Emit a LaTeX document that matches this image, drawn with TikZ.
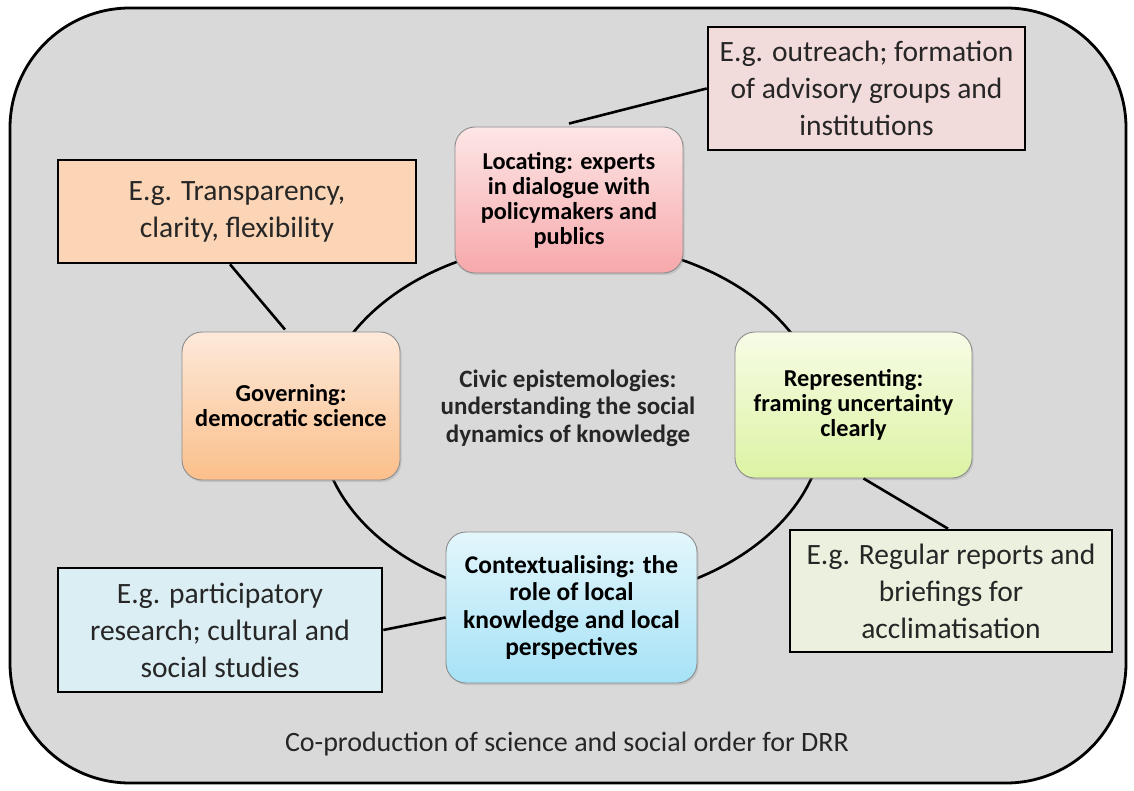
\documentclass[tikz,border=0pt]{standalone}
\usepackage{fontspec}
\setmainfont{Carlito}
\usetikzlibrary{calc,shadows}
\definecolor{panel}{HTML}{D9D9D9}
\definecolor{ink}{HTML}{262626}
\definecolor{exOrange}{HTML}{FBD5B5}
\definecolor{exPink}{HTML}{F2DCDB}
\definecolor{exGreen}{HTML}{EBF1DE}
\definecolor{exBlue}{HTML}{DBEEF4}
\definecolor{locTop}{HTML}{FDE6E6}
\definecolor{locBot}{HTML}{F7A8AB}
\definecolor{repTop}{HTML}{F7FCE6}
\definecolor{repBot}{HTML}{DCF3A3}
\definecolor{govTop}{HTML}{FDE9DA}
\definecolor{govBot}{HTML}{FBBF8A}
\definecolor{ctxTop}{HTML}{E3F6FC}
\definecolor{ctxBot}{HTML}{A6E2F6}
\begin{document}
\begin{tikzpicture}[x=1pt,y=-1pt,
  stage/.style={rounded corners=20pt, draw=black!45, line width=0.9pt, inner sep=0pt,
    align=center, text=black, font=\fontsize{24.3}{25}\selectfont\bfseries,
    drop shadow={opacity=0.25, shadow xshift=1.5pt, shadow yshift=-2pt}},
  example/.style={draw=black, line width=2.6pt, inner sep=0pt, align=center, text=ink,
    font=\fontsize{29.5}{37}\selectfont},
  link/.style={line width=2.6pt, draw=black}]
\useasboundingbox (0,0) rectangle (1134,791);
% panel
\draw[fill=panel, line width=2.8pt, rounded corners=120pt] (10,8) rectangle (1126,783);
% cycle
\draw[line width=2.6pt] (572,422) ellipse [x radius=252pt, y radius=180pt];
% stages of the cycle
\node[stage, top color=locTop, bottom color=locBot,
      minimum width=228pt, minimum height=146pt] (loc) at (569,200)
  {Locating: experts\\in dialogue with\\policymakers and\\publics};
\node[stage, top color=repTop, bottom color=repBot,
      minimum width=237pt, minimum height=146pt] (rep) at (853.5,405)
  {Representing:\\framing uncertainty\\clearly};
\node[stage, top color=govTop, bottom color=govBot,
      minimum width=218pt, minimum height=148pt] (gov) at (291,406)
  {Governing:\\democratic science};
\node[stage, top color=ctxTop, bottom color=ctxBot,
      font=\fontsize{25.5}{27.5}\selectfont\bfseries,
      minimum width=251pt, minimum height=151pt] (ctx) at (571.5,607.5)
  {Contextualising: the\\role of local\\knowledge and local\\perspectives};
% centre
\node[align=center, font=\fontsize{25}{27.5}\selectfont\bfseries, text=ink] (core) at (568,408)
  {Civic epistemologies:\\understanding the social\\dynamics of knowledge};
% examples
\node[example, fill=exOrange, minimum width=358pt, minimum height=103pt] (exgov) at (237,211.5)
  {E.g. Transparency,\\clarity, flexibility};
\node[example, fill=exPink, minimum width=317pt, minimum height=123pt] (exloc) at (866.5,88.5)
  {E.g. outreach; formation\\of advisory groups and\\institutions};
\node[example, fill=exGreen, minimum width=322pt, minimum height=122pt] (exrep) at (951,591)
  {E.g. Regular reports and\\briefings for\\acclimatisation};
\node[example, fill=exBlue, minimum width=324pt, minimum height=124pt] (exctx) at (220,630)
  {E.g. participatory\\research; cultural and\\social studies};
% links
\draw[link] ([yshift=3pt]loc.north) -- (exloc.west);
\draw[link] ([xshift=-7pt]exgov.south) -- ([xshift=-6pt,yshift=2pt]gov.north);
\draw[link] ([xshift=10pt]rep.south) -- ([xshift=-3pt]exrep.north);
\draw[link] (exctx.east) -- ([yshift=-10pt]ctx.west);
% caption
\node[font=\fontsize{28}{32}\selectfont, text=ink] (caption) at (567,744)
  {Co-production of science and social order for DRR};
\end{tikzpicture}
\end{document}
